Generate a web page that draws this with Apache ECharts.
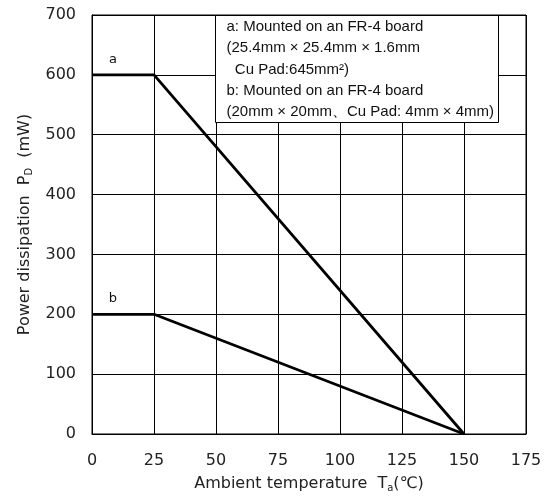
<!DOCTYPE html>
<html><head><meta charset="utf-8">
<script src="https://cdn.jsdelivr.net/npm/echarts@6/dist/echarts.min.js"></script>
<style>html,body{margin:0;padding:0;background:#fff}#c{width:552px;height:498px}</style>
</head><body><div id="c"></div>
<script>
const xTicks = [0, 25, 50, 75, 100, 125, 150, 175];
const yTicks = [0, 100, 200, 300, 400, 500, 600, 700];
const tempA = [0, 25, 150];
const powerA = [600, 600, 0];
const tempB = [0, 25, 150];
const powerB = [200, 200, 0];
const curveLabels = ['a', 'b'];
const noteLines = [
  'a: Mounted on an FR-4 board',
  '(25.4mm \u00d7 25.4mm \u00d7 1.6mm',
  '  Cu Pad:645mm\u00b2)',
  'b: Mounted on an FR-4 board',
  '(20mm \u00d7 20mm\u3001Cu Pad: 4mm \u00d7 4mm)'
];

const chart = echarts.init(document.getElementById('c'));
const F = 'DejaVu Sans';
function mk(xs, ys, lab) {
  return xs.map((x, i) => i === 0 ? {
    value: [x, ys[i]],
    label: {show: true, formatter: lab, position: 'top', offset: [21, -4], color: '#111', fontSize: 13, fontFamily: F}
  } : {value: [x, ys[i]], label: {show: false}});
}
chart.setOption({
  animation: false,
  grid: {left: 92, right: 26, top: 15, bottom: 63, show: true, borderColor: '#000', borderWidth: 1},
  xAxis: {
    type: 'value', min: 0, max: 175, interval: 25,
    axisLine: {show: true, lineStyle: {color: '#000', width: 1}},
    axisTick: {show: false},
    splitLine: {show: true, lineStyle: {color: '#000', width: 1}},
    axisLabel: {color: '#222', fontSize: 16, fontFamily: F, margin: 19},
    name: 'Ambient temperature  T{s|a}(\u2103)',
    nameLocation: 'middle', nameGap: 40,
    nameTextStyle: {color: '#222', fontSize: 16, fontFamily: F, rich: {s: {fontSize: 10, fontFamily: F, color: '#222', verticalAlign: 'bottom', padding: [9, 0, 0, 0]}}}
  },
  yAxis: {
    type: 'value', min: 0, max: 700, interval: 100,
    axisLine: {show: true, lineStyle: {color: '#000', width: 1}},
    axisTick: {show: false},
    splitLine: {show: true, lineStyle: {color: '#000', width: 1}},
    axisLabel: {color: '#222', fontSize: 16, fontFamily: F, margin: 16},
    name: 'Power dissipation  P{s|D}  (mW)',
    nameLocation: 'middle', nameGap: 56, nameRotate: 90,
    nameTextStyle: {color: '#222', fontSize: 16, fontFamily: F, rich: {s: {fontSize: 10, fontFamily: F, color: '#222', verticalAlign: 'bottom', padding: [9, 0, 0, 0]}}}
  },
  series: [
    {type: 'line', data: mk(tempA, powerA, curveLabels[0]), symbol: 'circle', symbolSize: 0.01, showSymbol: true, itemStyle: {color: '#000'}, lineStyle: {color: '#000', width: 2.8}},
    {type: 'line', data: mk(tempB, powerB, curveLabels[1]), symbol: 'circle', symbolSize: 0.01, showSymbol: true, itemStyle: {color: '#000'}, lineStyle: {color: '#000', width: 2.8}}
  ],
  graphic: [{
    type: 'group', left: 215, top: 15, z: 100,
    children: [
      {type: 'rect', z: 100, shape: {x: 0, y: 0, width: 283, height: 107}, style: {fill: '#fff', stroke: '#000', lineWidth: 1}},
      ...noteLines.map((t, i) => ({
        type: 'text', z: 101, x: 11, y: 4 + i * 21.3,
        style: {text: t, fill: '#111', font: '15px "Liberation Sans"'}
      }))
    ]
  }]
});
</script></body></html>
